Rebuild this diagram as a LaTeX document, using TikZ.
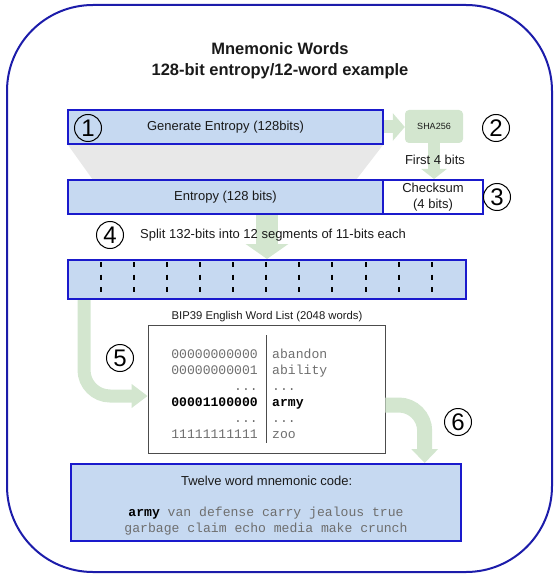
\documentclass[tikz,border=0pt]{standalone}
\usepackage{fontspec}
\setmainfont{Liberation Sans}
\setmonofont{Liberation Mono}
\usetikzlibrary{arrows.meta,calc}
\definecolor{boxfill}{HTML}{C6D9F1}
\definecolor{boxline}{HTML}{1A1ACC}
\definecolor{frameline}{HTML}{1C1CAA}
\definecolor{agreen}{HTML}{D3E6CF}
\definecolor{trapgray}{HTML}{E8E8E8}
\definecolor{monogray}{HTML}{6E6E6E}
\definecolor{txt}{HTML}{1A1A1A}
\begin{document}
\begin{tikzpicture}[x=1pt,y=-1pt,
  txtfont/.style={font=\fontsize{13}{16}\selectfont, text=txt},
  bluebox/.style={draw=boxline, fill=boxfill, line width=2pt, inner sep=0pt, txtfont},
  whitebox/.style={draw=boxline, fill=white, line width=2pt, inner sep=0pt, txtfont},
  numc/.style={circle, draw=black, line width=1pt, minimum size=27pt, inner sep=0pt, font=\fontsize{24}{24}\selectfont},
  garrow/.style={draw=agreen},
  dashline/.style={draw=black, line width=2pt, dash pattern=on 5pt off 7.5pt},
  monotxt/.style={font=\ttfamily\fontsize{13.1}{16}\selectfont, text=monogray, inner sep=0pt},
  monobold/.style={font=\ttfamily\bfseries\fontsize{13.1}{16}\selectfont, text=black, inner sep=0pt}
]
\useasboundingbox (0,0) rectangle (558,577);
% outer frame
\draw[frameline, line width=2pt, rounded corners=86pt] (7,5) rectangle (552,572);
% title
\node[align=center, font=\bfseries\fontsize{16.5}{21}\selectfont, text=txt] (title) at (280,60.5) {Mnemonic Words\\128-bit entropy/12-word example};
% gray trapezoid
\fill[trapgray] (68,145) -- (383,145) -- (356,180) -- (93,180) -- cycle;
% nodes
\node[bluebox, minimum width=315pt, minimum height=34pt] (box1) at (225.5,127) {Generate Entropy (128bits)};
\node[fill=agreen, rounded corners=4pt, minimum width=58pt, minimum height=33pt, inner sep=0pt, font=\fontsize{9}{11}\selectfont, text=txt] (sha) at (434,126.5) {SHA256};
\node[bluebox, minimum width=315pt, minimum height=34pt] (box2) at (225.5,197) {Entropy (128 bits)};
\node[whitebox, minimum width=100pt, minimum height=34pt, align=center] (chk) at (433,197) {Checksum\\(4 bits)};
\node[bluebox, minimum width=398.5pt, minimum height=39pt] (bar) at (266.85,279.5) {};
\foreach \i in {1,...,11} \draw[dashline] (67.6+33.1*\i,262) -- (67.6+33.1*\i,292);
\node[draw=black!70, line width=0.8pt, minimum width=237pt, minimum height=128pt, inner sep=0pt] (wl) at (266.5,389) {};
\node[bluebox, minimum width=390pt, minimum height=77pt] (bot) at (265.7,502.5) {};
% green arrows
\draw[garrow, line width=13pt, -{Triangle[width=27pt,length=12pt]}] (box1.east) -- (box1.east -| sha.west);
\draw[garrow, line width=12pt, -{Triangle[width=25pt,length=10pt]}] (sha.south) -- (sha.south |- chk.north);
\coordinate (a4) at (267,215);
\draw[garrow, line width=22pt, -{Triangle[width=42pt,length=15pt]}] (a4) -- (a4 |- bar.north);
\coordinate (a5) at (84,300);
\draw[garrow, line width=13pt, rounded corners=26pt, -{Triangle[width=23pt,length=16pt]}] (a5) |- ($(wl.west)+(0,7)$);
\draw[garrow, line width=15pt, rounded corners=26pt, -{Triangle[width=26pt,length=14pt]}] ($(wl.east)+(0,16)$) -| ($(bot.north)+(159,0)$);
% texts
\node[txtfont] (first) at (435,160) {First 4 bits};
\node[txtfont] (split) at (273,235) {Split 132-bits into 12 segments of 11-bits each};
\node[font=\fontsize{11.3}{13}\selectfont, text=txt] (wltitle) at (267,317) {BIP39 English Word List (2048 words)};
\draw[black!70, line width=0.8pt] (266.7,335) -- (266.7,443);
\node[monotxt, anchor=base east] (r1l) at (258,358.5) {00000000000};
\node[monotxt, anchor=base west] (r1r) at (272,358.5) {abandon};
\node[monotxt, anchor=base east] (r2l) at (258,374.5) {00000000001};
\node[monotxt, anchor=base west] (r2r) at (272,374.5) {ability};
\node[monotxt, anchor=base east] (r3l) at (258,390.5) {...};
\node[monotxt, anchor=base west] (r3r) at (272,390.5) {...};
\node[monobold, anchor=base east] (r4l) at (258,406.5) {00001100000};
\node[monobold, anchor=base west] (r4r) at (272,406.5) {army};
\node[monotxt, anchor=base east] (r5l) at (258,422.5) {...};
\node[monotxt, anchor=base west] (r5r) at (272,422.5) {...};
\node[monotxt, anchor=base east] (r6l) at (258,438.5) {11111111111};
\node[monotxt, anchor=base west] (r6r) at (272,438.5) {zoo};
\node[txtfont] (bottitle) at (266.7,481) {Twelve word mnemonic code:};
\node[monotxt, anchor=base] (w1) at (266,516.5) {{\bfseries\color{black}army} van defense carry jealous true};
\node[monotxt, anchor=base] (w2) at (266,532.5) {garbage claim echo media make crunch};
% step numbers
\node[numc] (c1) at (88,128) {1};
\node[numc] (c2) at (496,128) {2};
\node[numc] (c3) at (497,197) {3};
\node[numc] (c4) at (110,235) {4};
\node[numc] (c5) at (120,358) {5};
\node[numc] (c6) at (458,422) {6};
\end{tikzpicture}
\end{document}
